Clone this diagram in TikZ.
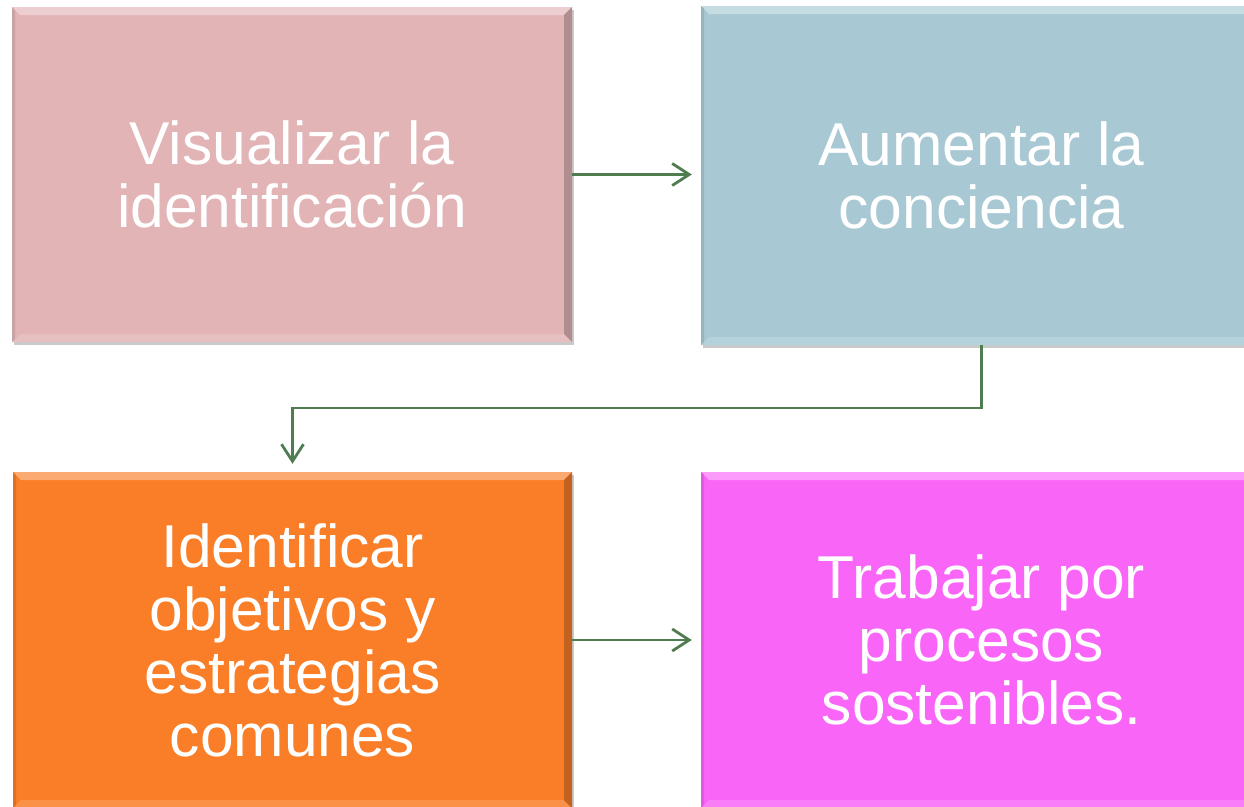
\documentclass[tikz,border=0pt]{standalone}
\usepackage{fontspec}
\setmainfont{Liberation Sans}
\usetikzlibrary{arrows.meta,shadows}
\definecolor{cpink}{HTML}{E2B4B6}
\definecolor{cblue}{HTML}{A8C9D4}
\definecolor{corange}{HTML}{F97E27}
\definecolor{cmagenta}{HTML}{F966F7}
\definecolor{carrow}{HTML}{4F7D50}
\tikzset{
  boxbase/.style={
    rectangle, inner sep=0pt, align=center, text=white,
    font=\fontsize{60.5}{63}\selectfont,
    fill=#1,
    drop shadow={shadow xshift=2pt, shadow yshift=-3pt, opacity=0.35, fill=black!60},
    path picture={
      \path (path picture bounding box.north west) coordinate (pNW)
            (path picture bounding box.south east) coordinate (pSE);
      \fill[#1!65!white] (pNW) -- (pNW -| pSE) -- ([xshift=-8pt,yshift=-8pt]pNW -| pSE) -- ([xshift=8pt,yshift=-8pt]pNW) -- cycle;
      \fill[#1!85!white] (pSE) -- (pSE -| pNW) -- ([xshift=8pt,yshift=8pt]pSE -| pNW) -- ([xshift=-8pt,yshift=8pt]pSE) -- cycle;
      \fill[#1!78!black] (pSE) -- (pSE |- pNW) -- ([xshift=-8pt,yshift=-8pt]pSE |- pNW) -- ([xshift=-8pt,yshift=8pt]pSE) -- cycle;
      \fill[#1!90!black] (pNW) -- (pNW |- pSE) -- ([xshift=3pt,yshift=3pt]pNW |- pSE) -- ([xshift=3pt,yshift=-3pt]pNW) -- cycle;
    }
  },
  arr/.style={draw=carrow, line width=2.8pt, -{Straight Barb[length=17pt,width=22pt,line width=2.8pt]}, shorten >=9pt}
}
\begin{document}
\begin{tikzpicture}[x=1pt,y=-1pt]
\useasboundingbox (0,0) rectangle (1244,806);
\node[boxbase=cpink, minimum width=560pt, minimum height=335pt] (tl) at (292,174.5) {Visualizar la\\identificación};
\node[boxbase=cblue, minimum width=561pt, minimum height=339pt] (tr) at (981.5,175.5) {Aumentar la\\conciencia};
\node[boxbase=corange, minimum width=559pt, minimum height=336pt] (bl) at (292.5,640) {Identificar\\objetivos y\\estrategias\\comunes};
\node[boxbase=cmagenta, minimum width=561pt, minimum height=336pt] (br) at (981.5,640) {Trabajar por\\procesos\\sostenibles.};
\coordinate (mid) at (0,408);
\draw[arr] (tl.east) -- (tr.west |- tl.east);
\draw[arr, shorten >=8pt] (tr.south) -- (tr.south |- mid) -| (bl.north);
\draw[arr] (bl.east) -- (br.west);
\end{tikzpicture}
\end{document}
